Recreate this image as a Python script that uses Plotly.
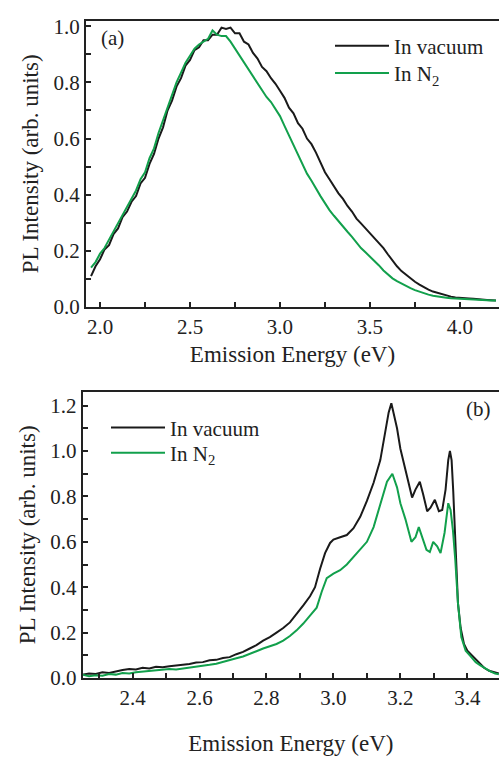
import plotly.graph_objects as go

# ---------------- Panel (a) data ----------------
E_a = [1.950, 1.975, 2.000, 2.025, 2.050, 2.075, 2.100, 2.125, 2.150, 2.175,
       2.200, 2.225, 2.250, 2.275, 2.300, 2.325, 2.350, 2.375, 2.400, 2.425,
       2.450, 2.475, 2.500, 2.525, 2.550, 2.575, 2.600, 2.625, 2.650, 2.675,
       2.700, 2.725, 2.750, 2.775, 2.800, 2.825, 2.850, 2.875, 2.900, 2.925,
       2.950, 2.975, 3.000, 3.025, 3.050, 3.075, 3.100, 3.125, 3.150, 3.175,
       3.200, 3.225, 3.250, 3.275, 3.300, 3.325, 3.350, 3.375, 3.400, 3.425,
       3.450, 3.475, 3.500, 3.525, 3.550, 3.575, 3.600, 3.625, 3.650, 3.675,
       3.700, 3.725, 3.750, 3.775, 3.800, 3.825, 3.850, 3.875, 3.900, 3.925,
       3.950, 3.975, 4.000, 4.025, 4.050, 4.075, 4.100, 4.125, 4.150, 4.175,
       4.200]
vac_a = [0.11, 0.145, 0.17, 0.205, 0.22, 0.26, 0.28, 0.32, 0.34, 0.375,
         0.395, 0.44, 0.46, 0.51, 0.545, 0.60, 0.64, 0.70, 0.735, 0.785,
         0.815, 0.86, 0.88, 0.915, 0.925, 0.95, 0.95, 0.97, 0.97, 0.995,
         0.99, 0.995, 0.975, 0.975, 0.945, 0.935, 0.905, 0.885, 0.855, 0.84,
         0.815, 0.795, 0.77, 0.745, 0.71, 0.69, 0.655, 0.635, 0.60, 0.58,
         0.55, 0.515, 0.48, 0.455, 0.43, 0.405, 0.385, 0.36, 0.34, 0.315,
         0.298, 0.28, 0.265, 0.248, 0.23, 0.21, 0.187, 0.165, 0.145, 0.128,
         0.115, 0.102, 0.09, 0.08, 0.07, 0.062, 0.055, 0.05, 0.045, 0.04,
         0.037, 0.034, 0.032, 0.031, 0.03, 0.029, 0.027, 0.027, 0.025, 0.024,
         0.023]
n2_a = [0.14, 0.16, 0.19, 0.21, 0.24, 0.27, 0.30, 0.33, 0.36, 0.39,
        0.415, 0.455, 0.48, 0.53, 0.565, 0.62, 0.665, 0.715, 0.76, 0.80,
        0.835, 0.87, 0.895, 0.92, 0.935, 0.945, 0.955, 0.985, 0.97, 0.965,
        0.965, 0.945, 0.92, 0.895, 0.87, 0.845, 0.82, 0.795, 0.77, 0.748,
        0.73, 0.705, 0.68, 0.645, 0.61, 0.575, 0.54, 0.51, 0.475, 0.45,
        0.42, 0.395, 0.37, 0.345, 0.325, 0.305, 0.285, 0.268, 0.25, 0.228,
        0.21, 0.195, 0.18, 0.163, 0.148, 0.13, 0.115, 0.102, 0.092, 0.083,
        0.075, 0.067, 0.06, 0.054, 0.048, 0.044, 0.04, 0.037, 0.035, 0.033,
        0.031, 0.03, 0.028, 0.027, 0.026, 0.025, 0.025, 0.024, 0.024, 0.023,
        0.023]

# ---------------- Panel (b) data ----------------
E_b_vac = [2.25, 2.27, 2.29, 2.31, 2.33, 2.35, 2.37, 2.39, 2.41, 2.43,
           2.45, 2.47, 2.49, 2.51, 2.53, 2.55, 2.57, 2.59, 2.61, 2.63,
           2.65, 2.67, 2.69, 2.71, 2.73, 2.75, 2.77, 2.79, 2.81, 2.83,
           2.85, 2.87, 2.89, 2.91, 2.93, 2.945, 2.96, 2.975, 2.99, 3.00,
           3.02, 3.04, 3.06, 3.08, 3.10, 3.12, 3.14, 3.155, 3.165, 3.173,
           3.18, 3.19, 3.20, 3.213, 3.225, 3.235, 3.245, 3.258, 3.268, 3.28,
           3.29, 3.303, 3.315, 3.325, 3.335, 3.343, 3.348, 3.353, 3.358, 3.365,
           3.372, 3.38, 3.39, 3.40, 3.41, 3.42, 3.435, 3.45, 3.465, 3.48,
           3.494]
vac_b = [0.015, 0.02, 0.018, 0.025, 0.022, 0.03, 0.035, 0.04, 0.038, 0.045,
         0.042, 0.05, 0.048, 0.052, 0.055, 0.06, 0.062, 0.068, 0.07, 0.078,
         0.08, 0.088, 0.092, 0.105, 0.115, 0.13, 0.145, 0.165, 0.18, 0.20,
         0.22, 0.245, 0.28, 0.32, 0.36, 0.40, 0.48, 0.55, 0.595, 0.61,
         0.62, 0.63, 0.66, 0.71, 0.78, 0.86, 0.96, 1.09, 1.17, 1.21,
         1.17, 1.10, 1.01, 0.93, 0.85, 0.795, 0.83, 0.865, 0.81, 0.735,
         0.75, 0.785, 0.735, 0.74, 0.83, 0.96, 1.0, 0.96, 0.82, 0.55,
         0.33, 0.22, 0.15, 0.12, 0.105, 0.09, 0.065, 0.045, 0.032, 0.025,
         0.02]
E_b_n2 = [2.25, 2.27, 2.29, 2.31, 2.33, 2.35, 2.37, 2.39, 2.41, 2.43,
          2.45, 2.47, 2.49, 2.51, 2.53, 2.55, 2.57, 2.59, 2.61, 2.63,
          2.65, 2.67, 2.69, 2.71, 2.73, 2.75, 2.77, 2.79, 2.81, 2.83,
          2.85, 2.87, 2.89, 2.91, 2.93, 2.95, 2.965, 2.98, 3.00, 3.02,
          3.04, 3.06, 3.08, 3.10, 3.12, 3.14, 3.16, 3.176, 3.19, 3.20,
          3.215, 3.233, 3.245, 3.255, 3.265, 3.278, 3.288, 3.298, 3.31, 3.32,
          3.332, 3.343, 3.35, 3.357, 3.364, 3.372, 3.382, 3.395, 3.41, 3.425,
          3.44, 3.455, 3.47, 3.483, 3.494]
n2_b = [0.015, 0.008, 0.012, 0.01, 0.018, 0.015, 0.022, 0.02, 0.025, 0.028,
        0.03, 0.033, 0.035, 0.04, 0.038, 0.042, 0.045, 0.047, 0.052, 0.058,
        0.063, 0.07, 0.078, 0.087, 0.095, 0.105, 0.118, 0.13, 0.14, 0.15,
        0.165, 0.185, 0.21, 0.24, 0.275, 0.31, 0.38, 0.44, 0.46, 0.475,
        0.50, 0.535, 0.565, 0.60, 0.665, 0.77, 0.865, 0.90, 0.84, 0.77,
        0.70, 0.60, 0.62, 0.665, 0.62, 0.565, 0.555, 0.60, 0.58, 0.55,
        0.64, 0.77, 0.74, 0.65, 0.52, 0.33, 0.18, 0.12, 0.095, 0.07,
        0.055, 0.04, 0.028, 0.02, 0.017]

labels = ["In vacuum", "In N<sub>2</sub>"]
colors = ["#1a1a1a", "#12a04c"]

FONT = "Times New Roman, Liberation Serif, Tinos, DejaVu Serif, serif"
W, H = 499, 761
TXT = "#222222"

fig = go.Figure()
fig.add_trace(go.Scatter(x=E_a, y=vac_a, mode="lines", name=labels[0],
                         line=dict(color=colors[0], width=2), xaxis="x", yaxis="y",
                         legend="legend"))
fig.add_trace(go.Scatter(x=E_a, y=n2_a, mode="lines", name=labels[1],
                         line=dict(color=colors[1], width=2), xaxis="x", yaxis="y",
                         legend="legend2"))
fig.add_trace(go.Scatter(x=E_b_vac, y=vac_b, mode="lines", name=labels[0],
                         line=dict(color=colors[0], width=2), xaxis="x2", yaxis="y2",
                         legend="legend3"))
fig.add_trace(go.Scatter(x=E_b_n2, y=n2_b, mode="lines", name=labels[1],
                         line=dict(color=colors[1], width=2), xaxis="x2", yaxis="y2",
                         legend="legend4"))

axis_common = dict(showline=True, linecolor=TXT, linewidth=2, ticks="inside",
                   ticklen=5, tickwidth=1.5, tickcolor=TXT, showgrid=False,
                   zeroline=False, tickfont=dict(family=FONT, size=21, color=TXT),
                   title_font=dict(family=FONT, size=23, color=TXT))


def leg(xpx, ypx):
    return dict(x=xpx / W, y=1 - ypx / H, xanchor="left", yanchor="middle",
                bgcolor="rgba(0,0,0,0)", font=dict(family=FONT, size=21, color=TXT),
                itemwidth=54, tracegroupgap=0)


fig.update_layout(
    width=W, height=H, margin=dict(l=0, r=0, t=0, b=0),
    paper_bgcolor="white", plot_bgcolor="white",
    font=dict(family=FONT, size=21, color=TXT),
    xaxis=dict(domain=[86 / W, 1], range=[1.922, 4.217], tickvals=[2.0, 2.5, 3.0, 3.5, 4.0],
               ticktext=["2.0", "2.5", "3.0", "3.5", "4.0"], mirror=True,
               minor=dict(dtick=0.25, tick0=2.0, ticks="inside", ticklen=5, tickcolor=TXT),
               title=dict(text="Emission Energy (eV)", standoff=8), anchor="y", **axis_common),
    yaxis=dict(domain=[1 - 308.3 / H, 1 - 15 / H], range=[0, 1.02],
               tickvals=[0, 0.2, 0.4, 0.6, 0.8, 1.0],
               ticktext=["0.0", "0.2", "0.4", "0.6", "0.8", "1.0"],
               minor=dict(dtick=0.1, tick0=0, ticks="inside", ticklen=5, tickcolor=TXT),
               title=dict(text="PL Intensity (arb. units)", standoff=8), anchor="x",
               **axis_common),
    xaxis2=dict(domain=[82.7 / W, 1], range=[2.251, 3.4946],
                tickvals=[2.4, 2.6, 2.8, 3.0, 3.2, 3.4],
                ticktext=["2.4", "2.6", "2.8", "3.0", "3.2", "3.4"], mirror=True,
                minor=dict(dtick=0.1, tick0=2.4, ticks="inside", ticklen=5, tickcolor=TXT),
                title=dict(text="Emission Energy (eV)", standoff=26), anchor="y2",
                **axis_common),
    yaxis2=dict(domain=[1 - 688.3 / H, 1 - 395 / H], range=[0, 1.2615],
                tickvals=[0, 0.2, 0.4, 0.6, 0.8, 1.0, 1.2],
                ticktext=["0.0", "0.2", "0.4", "0.6", "0.8", "1.0", "1.2"],
                minor=dict(dtick=0.1, tick0=0, ticks="inside", ticklen=5, tickcolor=TXT),
                title=dict(text="PL Intensity (arb. units)", standoff=8), anchor="x2",
                **axis_common),
    legend=leg(330, 41),
    legend2=leg(330, 69),
    legend3=leg(106, 432),
    legend4=leg(106, 458),
    showlegend=True,
    annotations=[
        dict(text="(a)", xref="paper", yref="paper", x=99 / W, y=1 - 33 / H,
             xanchor="left", yanchor="middle", showarrow=False,
             font=dict(family=FONT, size=21, color=TXT)),
        dict(text="(b)", xref="paper", yref="paper", x=493 / W, y=1 - 413 / H,
             xanchor="right", yanchor="middle", showarrow=False,
             font=dict(family=FONT, size=21, color=TXT)),
    ],
)

fig.write_html("out.html")
